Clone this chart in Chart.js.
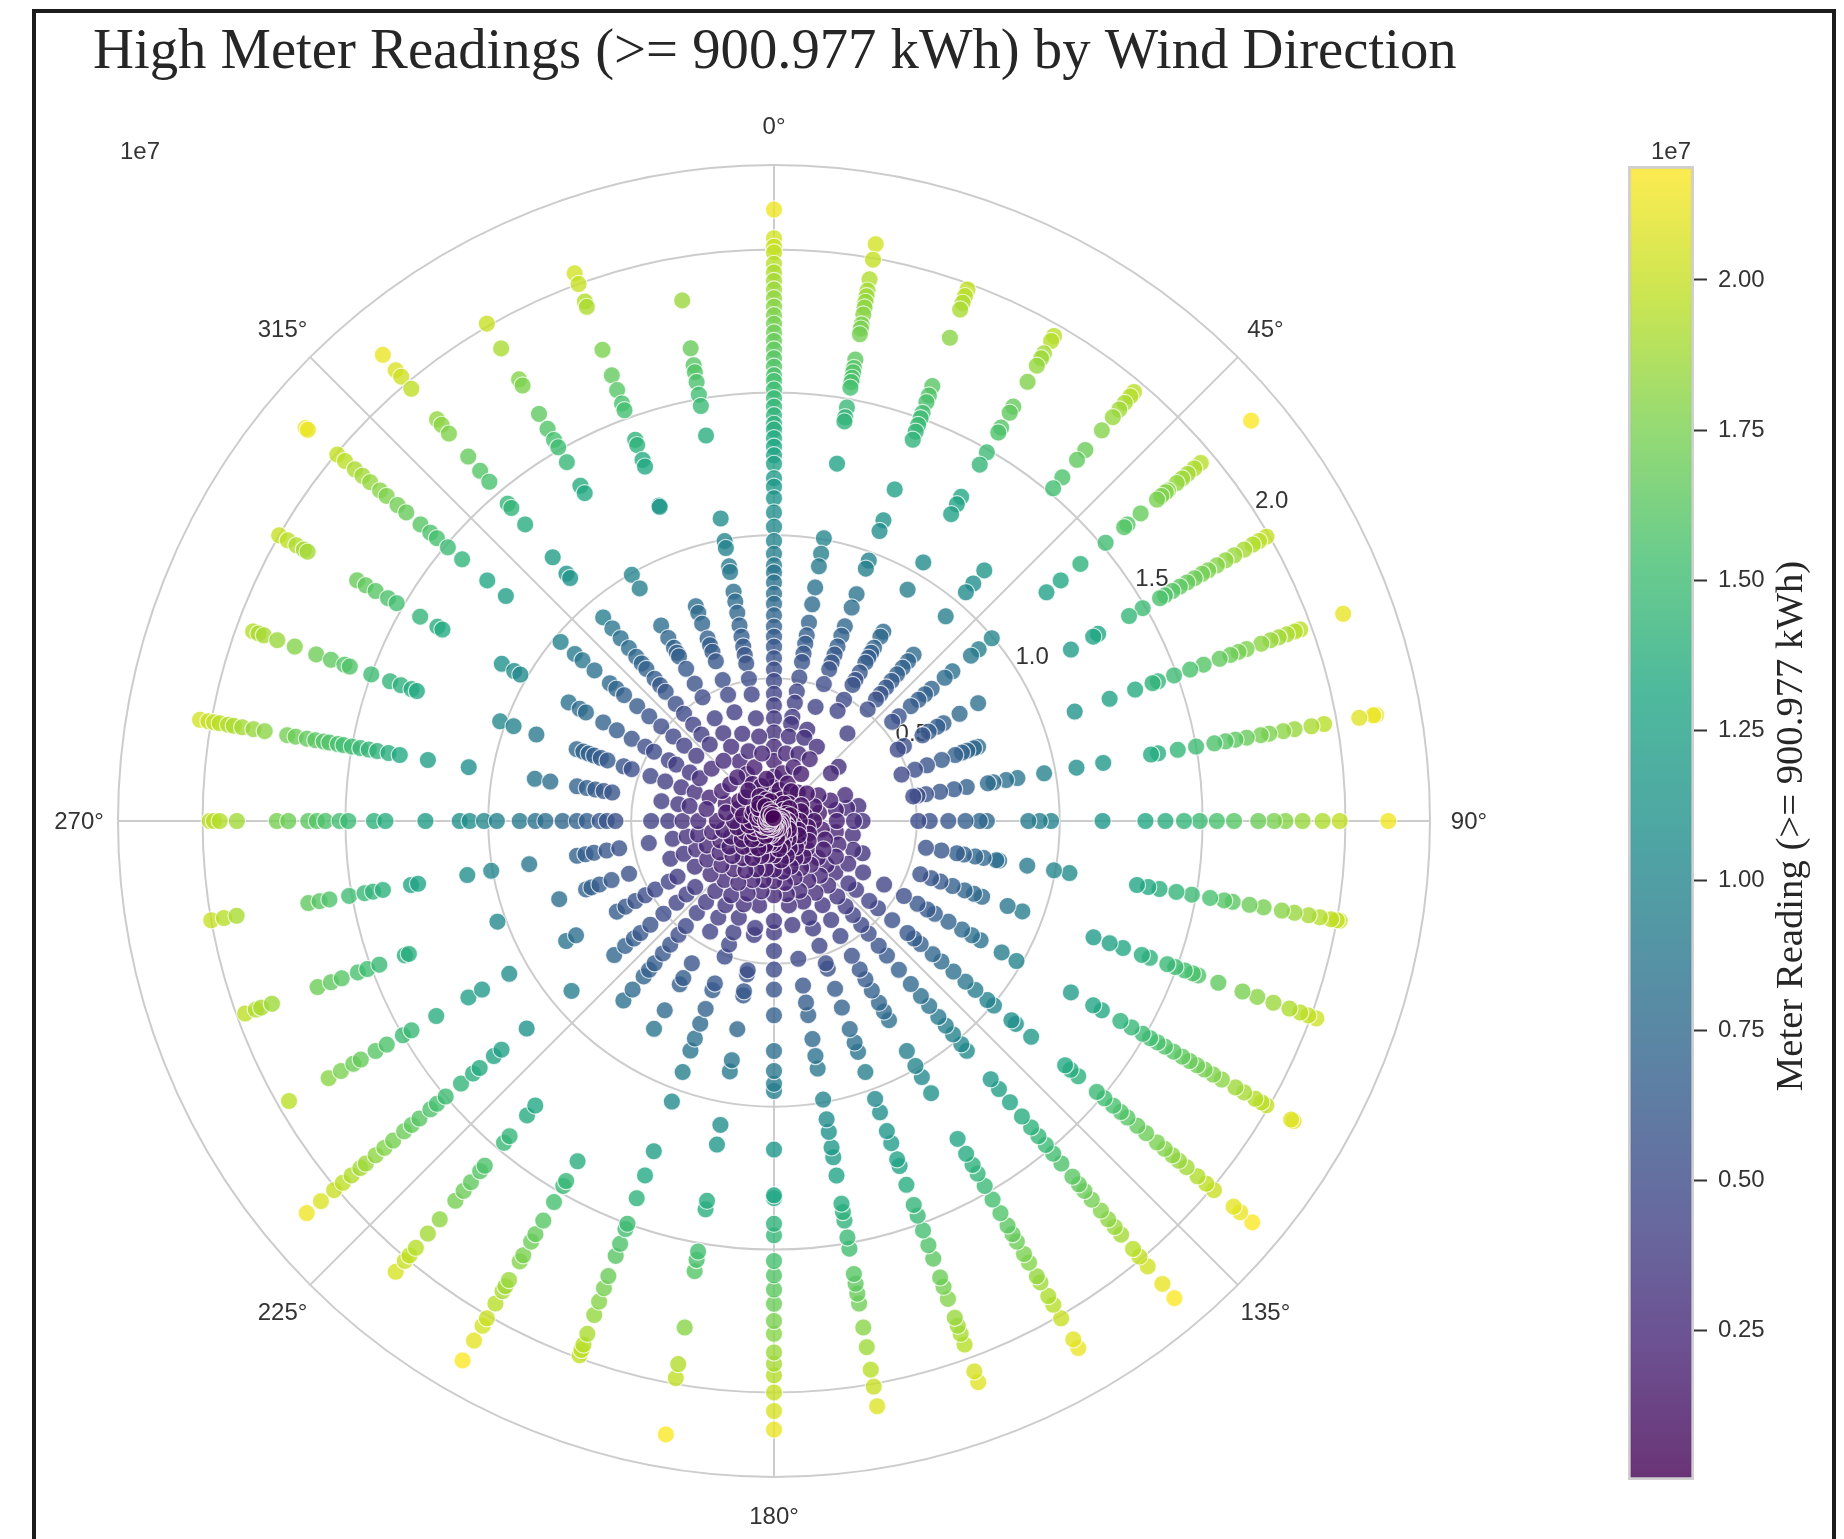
<!DOCTYPE html>
<html>
<head>
<meta charset="utf-8">
<title>High Meter Readings</title>
<script src="https://cdn.jsdelivr.net/npm/chart.js@4"></script>
<style>
html, body { margin:0; padding:0; background:#fff; overflow:hidden; width:1844px; height:1539px; }
#frame { position:absolute; left:32px; top:9px; width:1796px; height:1600px; border:4px solid #1c1c1c; }
#polar { position:absolute; left:0; top:0; }
#bar { position:absolute; left:1600px; top:101px; }
</style>
</head>
<body>
<div id="frame"></div>
<canvas id="polar" width="1844" height="1539"></canvas>
<canvas id="bar" width="244" height="1412"></canvas>
<script>
// ===== DATA (meter reading in units of 1e7, one list per wind direction) =====
const dir000 = [0.004,0.008,0.012,0.02,0.03,0.05,0.085,0.12,0.155,0.21,0.26,0.31,0.36,0.405,0.445,0.49,0.53,0.57,0.61,0.645,0.68,0.72,0.76,0.795,0.835,0.87,0.895,0.935,0.98,1.03,1.08,1.13,1.17,1.20,1.25,1.28,1.31,1.34,1.37,1.39,1.42,1.45,1.48,1.51,1.54,1.56,1.59,1.62,1.65,1.68,1.71,1.74,1.77,1.80,1.83,1.86,1.89,1.92,1.95,1.99,2.01,2.04,2.14];
const dir010 = [0.01,0.04,0.07,0.11,0.17,0.24,0.30,0.345,0.37,0.42,0.46,0.51,0.565,0.595,0.63,0.66,0.705,0.77,0.83,0.905,0.95,1.005,1.27,1.42,1.435,1.47,1.54,1.56,1.575,1.595,1.61,1.64,1.73,1.75,1.765,1.80,1.825,1.845,1.865,1.885,1.925,1.995,2.05];
const dir020 = [0.012,0.05,0.08,0.14,0.20,0.25,0.31,0.34,0.425,0.51,0.565,0.59,0.62,0.65,0.69,0.725,0.795,0.845,0.94,0.97,1.08,1.12,1.235,1.42,1.45,1.475,1.50,1.52,1.56,1.585,1.62,1.80,1.905,1.93,1.955,1.98];
const dir030 = [0.018,0.07,0.12,0.19,0.25,0.30,0.445,0.49,0.55,0.57,0.60,0.64,0.66,0.68,0.70,0.745,0.765,0.935,1.045,1.24,1.28,1.31,1.44,1.49,1.57,1.59,1.65,1.675,1.775,1.84,1.87,1.89,1.94,1.96];
const dir040 = [0.02,0.05,0.08,0.13,0.40,0.51,0.555,0.58,0.61,0.64,0.67,0.70,0.73,0.76,0.935,1.045,1.085,1.145,1.52,1.57,1.65,1.695,1.785,1.845,1.88,1.91,1.94,1.96];
const dir050 = [0.025,0.07,0.15,0.26,0.295,0.54,0.57,0.625,0.66,0.69,0.72,0.78,0.815,0.90,0.935,0.995,1.245,1.31,1.40,1.515,1.60,1.615,1.675,1.75,1.77,1.79,1.80,1.84,1.865,1.89,1.92,1.95,2.18];
const dir060 = [0.015,0.05,0.11,0.18,0.50,0.525,0.60,0.625,0.66,0.685,0.75,0.825,1.20,1.29,1.31,1.435,1.49,1.56,1.58,1.61,1.64,1.67,1.70,1.73,1.755,1.79,1.825,1.86,1.90,1.935,1.96,1.99];
const dir070 = [0.03,0.06,0.10,0.15,0.21,0.265,0.475,0.525,0.57,0.625,0.675,0.70,0.72,0.745,0.76,1.12,1.25,1.345,1.41,1.43,1.49,1.55,1.60,1.66,1.70,1.73,1.76,1.815,1.85,1.88,1.91,1.94,1.96,2.12];
const dir080 = [0.022,0.04,0.07,0.11,0.16,0.22,0.26,0.30,0.495,0.51,0.54,0.59,0.64,0.685,0.76,0.78,0.825,0.865,0.96,1.075,1.17,1.34,1.365,1.435,1.50,1.565,1.605,1.64,1.68,1.73,1.76,1.81,1.85,1.91,1.955,2.08,2.13,2.14];
const dir090 = [0.016,0.05,0.09,0.14,0.22,0.28,0.31,0.505,0.545,0.61,0.67,0.72,0.745,0.89,0.93,0.97,1.15,1.30,1.37,1.435,1.49,1.55,1.61,1.695,1.75,1.79,1.85,1.92,1.98,2.15];
const dir100 = [0.028,0.04,0.07,0.12,0.17,0.22,0.28,0.54,0.595,0.65,0.675,0.715,0.745,0.79,0.80,0.90,0.995,1.05,1.29,1.33,1.37,1.43,1.485,1.55,1.60,1.63,1.69,1.74,1.805,1.85,1.90,1.94,1.98,2.00,2.01];
const dir110 = [0.018,0.05,0.09,0.13,0.19,0.24,0.295,0.33,0.545,0.585,0.62,0.665,0.71,0.745,0.775,0.87,0.925,1.19,1.25,1.30,1.37,1.40,1.465,1.495,1.53,1.56,1.58,1.655,1.745,1.80,1.86,1.92,1.96,1.99,2.02];
const dir120 = [0.024,0.06,0.10,0.14,0.20,0.25,0.30,0.36,0.445,0.525,0.58,0.62,0.65,0.705,0.76,0.80,0.835,0.92,0.98,1.20,1.29,1.325,1.40,1.445,1.49,1.52,1.55,1.58,1.615,1.65,1.68,1.71,1.74,1.775,1.81,1.865,1.90,1.945,1.97,1.99,2.09,2.10];
const dir130 = [0.012,0.04,0.07,0.11,0.15,0.20,0.24,0.28,0.34,0.375,0.435,0.475,0.54,0.61,0.64,0.67,0.725,0.765,0.82,0.875,0.92,0.975,1.005,1.085,1.105,1.175,1.33,1.355,1.39,1.475,1.51,1.55,1.585,1.615,1.66,1.70,1.75,1.785,1.82,1.85,1.885,1.935,1.975,2.01,2.10,2.13,2.185];
const dir140 = [0.02,0.05,0.08,0.12,0.16,0.20,0.25,0.295,0.345,0.39,0.43,0.475,0.515,0.57,0.615,0.68,0.745,0.80,0.845,0.895,0.935,0.975,1.02,1.05,1.18,1.225,1.285,1.35,1.40,1.44,1.48,1.52,1.565,1.625,1.66,1.69,1.73,1.78,1.82,1.855,1.89,1.955,1.99,2.035,2.115,2.18];
const dir150 = [0.03,0.04,0.07,0.11,0.15,0.19,0.24,0.29,0.34,0.40,0.465,0.545,0.60,0.64,0.685,0.735,0.77,0.805,0.93,0.99,1.035,1.10,1.285,1.345,1.39,1.425,1.475,1.53,1.585,1.635,1.67,1.70,1.75,1.785,1.84,1.865,1.92,1.955,2.01,2.095,2.13];
const dir160 = [0.016,0.05,0.09,0.13,0.17,0.21,0.26,0.30,0.36,0.40,0.465,0.53,0.55,0.625,0.695,0.775,0.825,0.86,0.935,1.035,1.085,1.155,1.20,1.26,1.285,1.355,1.43,1.47,1.525,1.58,1.63,1.70,1.735,1.78,1.85,1.88,1.91,1.95,2.05,2.09];
const dir170 = [0.03,0.06,0.10,0.14,0.18,0.22,0.26,0.30,0.37,0.49,0.585,0.645,0.69,0.775,0.835,0.88,0.99,1.06,1.105,1.16,1.195,1.26,1.36,1.39,1.42,1.48,1.52,1.61,1.645,1.68,1.715,1.80,1.87,1.95,2.01,2.08];
const dir180 = [0.022,0.04,0.08,0.12,0.17,0.21,0.26,0.35,0.39,0.455,0.52,0.59,0.68,0.805,0.875,0.92,0.945,1.15,1.31,1.32,1.41,1.45,1.54,1.59,1.64,1.69,1.75,1.795,1.86,1.90,1.94,2.00,2.065,2.13];
const dir190 = [0.014,0.05,0.08,0.12,0.17,0.21,0.25,0.30,0.38,0.405,0.53,0.545,0.605,0.62,0.74,0.85,0.89,1.08,1.15,1.35,1.38,1.53,1.56,1.60,1.80,1.93,1.98,2.18];
const dir200 = [0.026,0.05,0.09,0.13,0.18,0.22,0.27,0.31,0.36,0.415,0.46,0.505,0.605,0.63,0.70,0.755,0.81,0.855,0.935,1.045,1.23,1.32,1.405,1.50,1.52,1.575,1.62,1.695,1.74,1.79,1.84,1.91,1.95,1.97,1.99];
const dir210 = [0.02,0.06,0.11,0.15,0.20,0.25,0.30,0.34,0.39,0.447,0.575,0.635,0.66,0.765,0.84,1.375,1.455,1.475,1.54,1.615,1.67,1.70,1.755,1.78,1.855,1.88,1.90,1.95,2.01,2.04,2.10,2.18];
const dir220 = [0.012,0.04,0.08,0.12,0.17,0.22,0.27,0.32,0.37,0.42,0.48,0.52,0.565,0.605,0.65,0.68,0.71,0.77,0.82,1.30,1.345,1.44,1.47,1.575,1.60,1.65,1.69,1.735,1.82,1.885,1.95,1.985,2.01,2.06];
const dir230 = [0.03,0.05,0.10,0.14,0.19,0.24,0.29,0.36,0.40,0.445,0.505,0.565,0.61,0.64,0.68,0.73,0.925,1.13,1.245,1.28,1.345,1.375,1.43,1.50,1.54,1.57,1.62,1.655,1.69,1.74,1.78,1.82,1.865,1.89,1.93,1.97,2.01,2.07,2.135];
const dir240 = [0.018,0.04,0.08,0.13,0.18,0.22,0.27,0.32,0.39,0.425,0.48,0.52,0.56,0.60,0.635,0.80,0.84,1.07,1.18,1.235,1.365,1.465,1.50,1.565,1.61,1.67,1.70,1.75,1.80,1.96];
const dir250 = [0.024,0.04,0.07,0.11,0.16,0.20,0.25,0.29,0.336,0.386,0.54,0.605,0.65,0.68,0.70,0.80,1.03,1.36,1.375,1.47,1.515,1.55,1.61,1.65,1.70,1.87,1.91,1.93,1.97];
const dir260 = [0.014,0.05,0.09,0.13,0.18,0.22,0.27,0.31,0.36,0.445,0.55,0.595,0.64,0.67,0.70,0.87,1.005,1.09,1.265,1.29,1.39,1.425,1.455,1.51,1.58,1.615,1.655,1.91,1.955,2.00];
const dir270 = [0.028,0.04,0.08,0.14,0.20,0.265,0.32,0.37,0.43,0.555,0.585,0.61,0.655,0.69,0.74,0.80,0.835,0.89,0.97,1.015,1.065,1.10,1.22,1.36,1.40,1.49,1.52,1.57,1.60,1.63,1.70,1.74,1.88,1.94,1.96,1.975];
const dir280 = [0.02,0.06,0.11,0.17,0.24,0.30,0.34,0.40,0.575,0.605,0.635,0.665,0.70,0.795,0.85,1.085,1.23,1.33,1.37,1.41,1.44,1.47,1.50,1.53,1.55,1.58,1.60,1.63,1.66,1.70,1.73,1.81,1.85,1.89,1.92,1.94,1.97,1.99,2.01,2.04];
const dir290 = [0.012,0.05,0.08,0.13,0.18,0.24,0.295,0.345,0.405,0.46,0.53,0.56,0.62,0.645,0.67,0.69,0.71,0.735,0.885,0.97,1.02,1.33,1.35,1.39,1.43,1.50,1.58,1.60,1.65,1.705,1.785,1.85,1.90,1.92,1.94];
const dir300 = [0.025,0.05,0.08,0.14,0.21,0.30,0.34,0.395,0.425,0.485,0.52,0.575,0.635,0.69,0.76,0.785,0.83,1.025,1.05,1.10,1.34,1.36,1.43,1.525,1.56,1.61,1.65,1.685,1.885,1.90,1.93,1.965,2.00];
const dir310 = [0.016,0.07,0.13,0.20,0.285,0.355,0.41,0.46,0.515,0.57,0.625,0.685,0.72,0.75,0.82,0.875,0.91,0.975,1.225,1.31,1.425,1.49,1.54,1.57,1.615,1.68,1.72,1.77,1.80,1.845,1.88,1.915,1.96,1.995,2.13,2.14];
const dir320 = [0.03,0.08,0.14,0.20,0.275,0.35,0.395,0.44,0.49,0.535,0.59,0.62,0.65,0.695,0.72,0.75,0.79,0.835,0.88,0.93,1.11,1.13,1.205,1.355,1.43,1.45,1.55,1.60,1.665,1.77,1.81,1.835,1.975,2.03,2.06,2.13];
const dir330 = [0.018,0.06,0.10,0.15,0.19,0.24,0.30,0.355,0.415,0.50,0.555,0.615,0.665,0.68,0.70,0.74,0.79,0.94,0.995,1.325,1.355,1.45,1.51,1.54,1.585,1.645,1.76,1.785,1.91,2.01];
const dir340 = [0.022,0.04,0.08,0.13,0.20,0.26,0.325,0.405,0.47,0.525,0.595,0.63,0.655,0.68,0.735,0.775,0.80,1.17,1.175,1.32,1.345,1.40,1.42,1.53,1.555,1.605,1.66,1.755,1.915,1.935,2.00,2.04];
const dir350 = [0.01,0.03,0.07,0.15,0.24,0.30,0.365,0.45,0.505,0.56,0.59,0.62,0.655,0.695,0.74,0.78,0.815,0.885,0.905,0.97,0.995,1.075,1.37,1.475,1.515,1.56,1.595,1.62,1.68,1.85];

const directions = [0,10,20,30,40,50,60,70,80,90,100,110,120,130,140,150,160,170,180,190,200,210,220,230,240,250,260,270,280,290,300,310,320,330,340,350];
const readings = [dir000,dir010,dir020,dir030,dir040,dir050,dir060,dir070,dir080,dir090,dir100,dir110,dir120,dir130,dir140,dir150,dir160,dir170,dir180,dir190,dir200,dir210,dir220,dir230,dir240,dir250,dir260,dir270,dir280,dir290,dir300,dir310,dir320,dir330,dir340,dir350];

const angleTicks = [0,45,90,135,180,225,270,315];
const radialTicks = [0.5,1.0,1.5,2.0];
const rMax = 2.296;
const colorTicks = [0.25,0.50,0.75,1.00,1.25,1.50,1.75,2.00];
const colorMin = 0;
const colorMax = 2.19;

const titleText = "High Meter Readings (>= 900.977 kWh) by Wind Direction";
const barLabel = "Meter Reading (>= 900.977 kWh)";
const offsetText = "1e7";

// ===== COLOURS =====
const viridis = [[68,1,84],[72,36,117],[65,68,135],[53,95,141],[42,120,142],[33,145,140],[34,168,132],[68,191,112],[122,209,81],[189,223,38],[253,231,37]];

function viridisAt(t, alpha){
    t = Math.max(0, Math.min(1, t)) * (viridis.length-1);
    let i = Math.min(viridis.length-2, Math.floor(t));
    let f = t-i;
    let c = viridis[i].map((v,k)=>Math.round(v + (viridis[i+1][k]-v)*f));
    return `rgba(${c[0]},${c[1]},${c[2]},${alpha})`;
}

function pointColor(ctx){
    if(ctx.raw==null) return "transparent";
    return viridisAt((ctx.raw-colorMin)/(colorMax-colorMin), 0.8);
}

// ===== POLAR DATA =====
// every 5 degrees is a category so that the 45 degree spokes exist, readings sit on the 10 degree ones
const angleLabels = Array.from({length:72}, (_,i)=>(i*5)+"°");
const longest = Math.max(...readings.map(r=>r.length));
const datasets = [];
for(let k=0; k<longest; k++){
    let row = new Array(72).fill(null);
    directions.forEach((d,i)=>{
        if(readings[i][k]!==undefined) row[d/5] = readings[i][k];
    });
    datasets.push({
        data: row,
        showLine: false,
        fill: false,
        borderWidth: 0,
        pointRadius: 8.6,
        pointHoverRadius: 8.6,
        pointBorderWidth: 1.2,
        pointBorderColor: "rgba(255,255,255,0.75)",
        pointBackgroundColor: pointColor
    });
}

// ===== TEXT PLUGINS =====
const polarText = {
    id: "polarText",
    beforeDatasetsDraw(chart){
        const ctx = chart.ctx;
        const r = chart.scales.r;
        ctx.save();
        ctx.fillStyle = "#333333";
        ctx.font = "24px 'Liberation Sans'";
        ctx.textAlign = "center";
        ctx.textBaseline = "middle";
        angleTicks.forEach(a=>{
            let t = a*Math.PI/180;
            ctx.fillText(a+"°", r.xCenter+(r.drawingArea+39)*Math.sin(t), r.yCenter-(r.drawingArea+39)*Math.cos(t)+1);
        });
        let t = 57*Math.PI/180;
        radialTicks.forEach(v=>{
            let d = r.getDistanceFromCenterForValue(v)+22;
            ctx.fillText(v.toFixed(1), r.xCenter+d*Math.sin(t), r.yCenter-d*Math.cos(t)+3.5);
        });
        ctx.restore();
    },
    afterDraw(chart){
        const ctx = chart.ctx;
        ctx.save();
        ctx.fillStyle = "#333333";
        ctx.font = "24px 'Liberation Sans'";
        ctx.textAlign = "center";
        ctx.textBaseline = "middle";
        ctx.fillText(offsetText, 140, 152);
        ctx.fillStyle = "#262626";
        ctx.font = "56.7px 'Liberation Serif'";
        ctx.textAlign = "left";
        ctx.textBaseline = "alphabetic";
        ctx.fillText(titleText, 93, 68);
        ctx.restore();
    }
};

const barText = {
    id: "barText",
    afterDraw(chart){
        const ctx = chart.ctx;
        const area = chart.chartArea;
        ctx.save();
        ctx.fillStyle = "#333333";
        ctx.font = "24px 'Liberation Sans'";
        ctx.textAlign = "center";
        ctx.textBaseline = "middle";
        ctx.fillText(offsetText, area.left+43, area.top-14);
        ctx.translate(192, (area.top+area.bottom)/2+3);
        ctx.rotate(-Math.PI/2);
        ctx.fillStyle = "#262626";
        ctx.font = "38.7px 'Liberation Serif'";
        ctx.fillText(barLabel, 0, 0);
        ctx.restore();
    }
};

// ===== POLAR CHART =====
new Chart(document.getElementById("polar"), {
    type: "radar",
    data: {labels: angleLabels, datasets},
    plugins: [polarText],
    options: {
        responsive: false,
        animation: false,
        layout: {padding: {left:118, right:414, top:165, bottom:62}},
        plugins: {legend:{display:false}, tooltip:{enabled:false}},
        scales: {
            r: {
                min: 0,
                max: rMax,
                afterBuildTicks(scale){
                    scale.ticks = [0,...radialTicks,rMax].map(v=>({value:v}));
                },
                ticks: {display:false},
                pointLabels: {display:false},
                grid: {circular:true, color:"#cccccc", lineWidth:2},
                angleLines: {
                    color: "#cccccc",
                    lineWidth: ctx=>ctx.index%9===0 ? 2 : 0
                }
            }
        }
    }
});

// ===== COLOUR BAR =====
function barGradient(ctx){
    const c = ctx.chart;
    if(!c.chartArea) return "transparent";
    const y = c.scales.y;
    let g = c.ctx.createLinearGradient(0, y.getPixelForValue(colorMin), 0, y.getPixelForValue(colorMax));
    viridis.forEach((_,i)=>{
        let f = i/(viridis.length-1);
        g.addColorStop(f, viridisAt(f, 0.8));
    });
    return g;
}

new Chart(document.getElementById("bar"), {
    type: "bar",
    data: {
        labels: ["Meter Reading"],
        datasets: [{
            data: [[colorMin,colorMax]],
            backgroundColor: barGradient,
            borderColor: "#d0d0d0",
            borderWidth: 3,
            borderSkipped: false,
            barPercentage: 1,
            categoryPercentage: 1
        }]
    },
    plugins: [barText],
    options: {
        responsive: false,
        animation: false,
        // the tick labels reserve about 27px below the axis, so the canvas runs past the bar
        layout: {padding: {left:28, right:50, top:65, bottom:33}},
        plugins: {legend:{display:false}, tooltip:{enabled:false}},
        scales: {
            x: {display:false},
            y: {
                position: "right",
                min: colorMin,
                max: colorMax,
                afterBuildTicks(scale){
                    scale.ticks = colorTicks.map(v=>({value:v}));
                },
                afterFit(scale){ scale.width = 100; },
                border: {display:false},
                grid: {drawOnChartArea:false, tickLength:13, tickColor:"#333333", tickWidth:2},
                ticks: {
                    padding: 11,
                    color: "#333333",
                    font: {family:"'Liberation Sans'", size:24},
                    callback: v=>v.toFixed(2)
                }
            }
        }
    }
});
</script>
</body>
</html>
